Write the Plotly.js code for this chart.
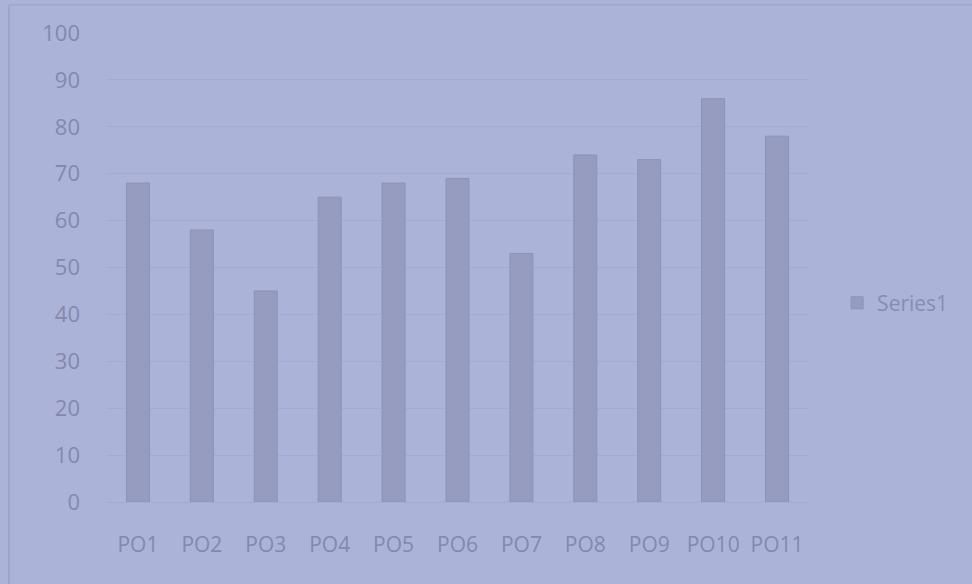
<!DOCTYPE html>
<html>
<head>
<meta charset="utf-8">
<script src="https://cdn.plot.ly/plotly-3.0.1.min.js"></script>
<style>html,body{margin:0;padding:0;background:#acb3d9;}</style>
</head>
<body>
<div id="chart" style="width:972px;height:584px;"></div>
<script>
const categories = ["PO1","PO2","PO3","PO4","PO5","PO6","PO7","PO8","PO9","PO10","PO11"];
const series1 = [68, 58, 45, 65, 68, 69, 53, 74, 73, 86, 78];
const yTicks = [0,10,20,30,40,50,60,70,80,90,100];

const trace = {
  type: 'bar',
  name: 'Series1',
  x: categories,
  y: series1,
  width: 0.36,
  marker: {color: '#969cbf', line: {color: '#8c93b7', width: 1}},
  showlegend: true
};

const layout = {
  width: 972, height: 584,
  margin: {l: 106, r: 163, t: 33, b: 82},
  paper_bgcolor: '#acb3d9',
  plot_bgcolor: '#acb3d9',
  font: {family: 'Open Sans, sans-serif', color: '#8389ad', size: 21},
  showlegend: true,
  legend: {x: 1.04, y: 0.424, xanchor: 'left', yanchor: 'middle',
           bgcolor: 'rgba(0,0,0,0)', font: {size: 21, color: '#878db1'}},
  xaxis: {type: 'category', showgrid: false, zeroline: false, showline: false,
          ticks: '', ticklabelstandoff: 28, tickfont: {size: 21, color: '#8389ad'}},
  yaxis: {range: [0, 100], tickvals: yTicks, ticktext: yTicks.map(String),
          showgrid: true, gridcolor: '#a3abd2', gridwidth: 1,
          zeroline: true, zerolinecolor: '#a3abd2', showline: false,
          ticks: '', ticklabelstandoff: 25, tickfont: {size: 22, color: '#8389ad'}},
  shapes: [
    {type: 'line', xref: 'paper', yref: 'paper', x0: -0.138, x1: -0.138, y0: 1.06, y1: -0.2,
     line: {color: '#98a0c6', width: 1.5}},
    {type: 'line', xref: 'paper', yref: 'paper', x0: -0.138, x1: 1.25, y0: 1.06, y1: 1.06,
     line: {color: '#a0a7cc', width: 1.5}}
  ]
};

Plotly.newPlot('chart', [trace], layout, {displayModeBar: false, staticPlot: true});
</script>
</body>
</html>
